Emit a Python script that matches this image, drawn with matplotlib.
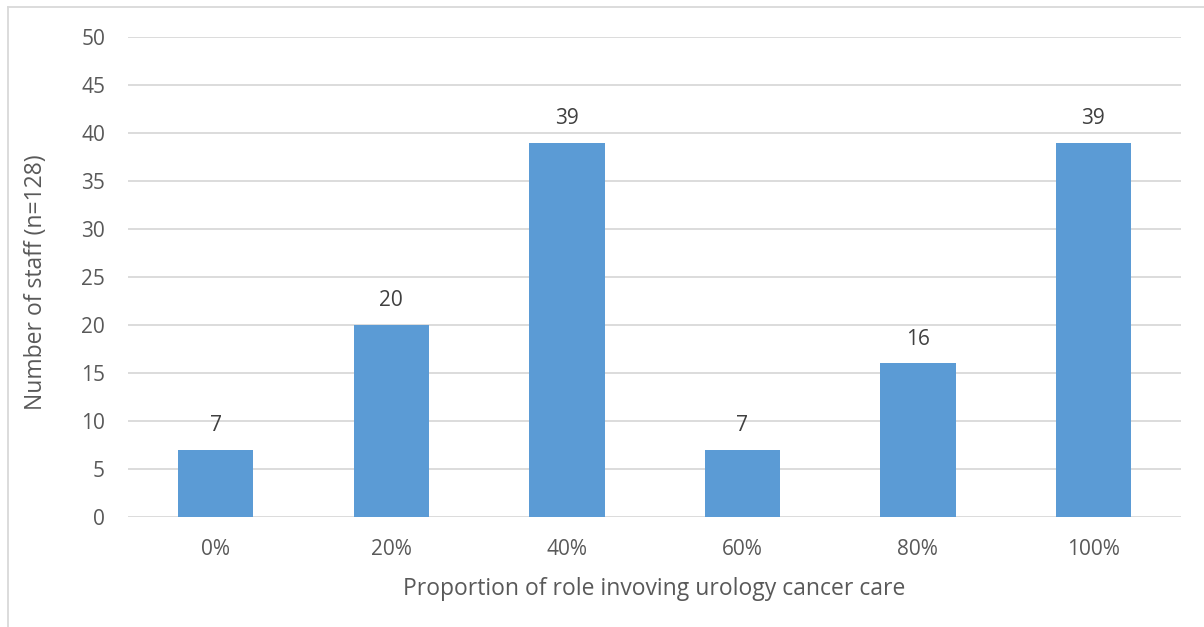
import matplotlib
matplotlib.use('Agg')
import matplotlib.pyplot as plt
from matplotlib.lines import Line2D

categories = ['0%', '20%', '40%', '60%', '80%', '100%']
staff_counts = [7, 20, 39, 7, 16, 39]
y_ticks = [0, 5, 10, 15, 20, 25, 30, 35, 40, 45, 50]

bar_color = '#5B9BD5'
text_color = '#595959'
grid_color = '#D9D9D9'

plt.rcParams['font.family'] = ['Open Sans', 'DejaVu Sans']

fig = plt.figure(figsize=(12.04, 6.27), dpi=100)
ax = fig.add_axes([0.1063, 0.1754, 0.8747, 0.7656])

x = range(len(categories))
bars = ax.bar(x, staff_counts, width=0.43, color=bar_color, zorder=3)
for rect, v in zip(bars, staff_counts):
    ax.annotate(str(v), (rect.get_x() + rect.get_width() / 2, v),
                xytext=(0, 10), textcoords='offset points',
                ha='center', va='bottom', fontsize=15, color='#404040')

ax.set_xlim(-0.5, len(categories) - 0.5)
ax.set_ylim(0, 50)
ax.set_yticks(y_ticks)
ax.set_xticks(list(x))
ax.set_xticklabels(categories)
ax.tick_params(axis='both', length=0, labelsize=15, labelcolor=text_color)
ax.tick_params(axis='x', pad=16)
ax.tick_params(axis='y', pad=16.5)
ax.yaxis.grid(True, color=grid_color, linewidth=1.3, zorder=0)
for s in ax.spines.values():
    s.set_visible(False)

ax.set_xlabel('Proportion of role invoving urology cancer care',
              fontsize=16.5, color=text_color)
ax.set_ylabel('Number of staff (n=128)', fontsize=16.5, color=text_color)
ax.xaxis.set_label_coords(0.5, -0.124)
ax.yaxis.set_label_coords(-0.076, 0.49)

# chart frame (top and left edges)
fig.add_artist(Line2D([8 / 1204, 1], [1 - 7 / 627] * 2, transform=fig.transFigure,
                      color=grid_color, linewidth=1.3))
fig.add_artist(Line2D([8 / 1204] * 2, [0, 1 - 7 / 627], transform=fig.transFigure,
                      color=grid_color, linewidth=1.3))

fig.savefig('out.png', dpi=100, facecolor='white')
